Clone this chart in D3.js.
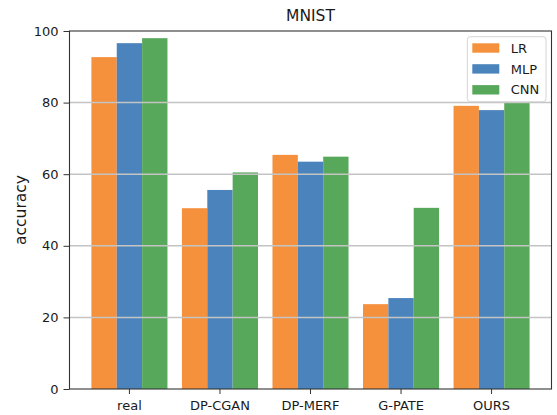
<!DOCTYPE html>
<html>
<head>
<meta charset="utf-8">
<script src="https://cdn.jsdelivr.net/npm/d3@7"></script>
<style>
  html, body { margin: 0; padding: 0; background: #fff; }
  svg { display: block; font-family: "DejaVu Sans", sans-serif; }
</style>
</head>
<body>
<svg id="chart" width="557" height="415"></svg>
<script>
// Classifier accuracy on MNIST for real data and each synthetic-data method
const methods = ["real", "DP-CGAN", "DP-MERF", "G-PATE", "OURS"];
const seriesNames = ["LR", "MLP", "CNN"];
const lrValues  = [92.7, 50.5, 65.4, 23.7, 79.1];
const mlpValues = [96.6, 55.6, 63.5, 25.4, 77.9];
const cnnValues = [98.0, 60.5, 64.9, 50.6, 80.2];
const yTicks = [0, 20, 40, 60, 80, 100];
const seriesColors = ["#f5903d", "#4b84bc", "#58a85b"];

const values = [lrValues, mlpValues, cnnValues];

const svg = d3.select("#chart");
const plot = { left: 69.5, right: 551.5, top: 31, bottom: 389 };

const x = d3.scaleBand()
  .domain(methods)
  .range([plot.left, plot.right])
  .paddingInner(0.16)
  .paddingOuter(0.242);

const xSeries = d3.scaleBand()
  .domain(seriesNames)
  .range([0, x.bandwidth()])
  .padding(0);

const y = d3.scaleLinear()
  .domain([0, 100])
  .range([plot.bottom, plot.top]);

// bars
const groups = svg.append("g")
  .selectAll("g")
  .data(seriesNames)
  .join("g")
  .attr("fill", (d, i) => seriesColors[i]);

groups.selectAll("rect")
  .data((s, si) => methods.map((m, mi) => ({ method: m, series: s, value: values[si][mi] })))
  .join("rect")
  .attr("x", d => x(d.method) + xSeries(d.series))
  .attr("y", d => y(d.value))
  .attr("width", xSeries.bandwidth())
  .attr("height", d => y(0) - y(d.value));

// horizontal grid, drawn above the bars
svg.append("g")
  .selectAll("line")
  .data(yTicks.filter(t => t > 0 && t < 100))
  .join("line")
  .attr("x1", plot.left)
  .attr("x2", plot.right)
  .attr("y1", d => y(d))
  .attr("y2", d => y(d))
  .attr("stroke", "#c4c4c4")
  .attr("stroke-width", 1.5);

// axes
const yAxis = svg.append("g")
  .attr("transform", `translate(${plot.left},0)`)
  .call(d3.axisLeft(y).tickValues(yTicks).tickSize(6).tickPadding(5).tickFormat(d3.format("d")));

const xAxis = svg.append("g")
  .attr("transform", `translate(0,${plot.bottom})`)
  .call(d3.axisBottom(x).tickSize(5).tickPadding(7));

[yAxis, xAxis].forEach(a => {
  a.select(".domain").remove();
  a.selectAll(".tick line").attr("stroke", "#333").attr("stroke-width", 1);
  a.selectAll(".tick text")
    .attr("fill", "#1a1a1a")
    .style("font-size", "13px")
    .style("font-family", "DejaVu Sans, sans-serif");
});

// frame
svg.append("rect")
  .attr("x", plot.left)
  .attr("y", plot.top)
  .attr("width", plot.right - plot.left)
  .attr("height", plot.bottom - plot.top)
  .attr("fill", "none")
  .attr("stroke", "#333")
  .attr("stroke-width", 1.1);

// title
svg.append("text")
  .attr("x", (plot.left + plot.right) / 2)
  .attr("y", 20.7)
  .attr("text-anchor", "middle")
  .attr("fill", "#1a1a1a")
  .style("font-size", "15.5px")
  .text("MNIST");

// y label
svg.append("text")
  .attr("transform", `translate(25.5,${(plot.top + plot.bottom) / 2}) rotate(-90)`)
  .attr("text-anchor", "middle")
  .attr("fill", "#1a1a1a")
  .style("font-size", "15.5px")
  .text("accuracy");

// legend
const legend = svg.append("g");
legend.append("rect")
  .attr("x", 467.3)
  .attr("y", 36.7)
  .attr("width", 78.7)
  .attr("height", 65)
  .attr("rx", 3)
  .attr("fill", "#fff")
  .attr("stroke", "#d4d4d4")
  .attr("stroke-width", 1);

const items = legend.selectAll("g.item")
  .data(seriesNames)
  .join("g")
  .attr("class", "item")
  .attr("transform", (d, i) => `translate(472.3,${43.3 + i * 20.9})`);

items.append("rect")
  .attr("width", 27)
  .attr("height", 9.4)
  .attr("fill", (d, i) => seriesColors[i]);

items.append("text")
  .attr("x", 38.4)
  .attr("y", 4.7)
  .attr("dy", "0.36em")
  .attr("fill", "#1a1a1a")
  .style("font-size", "13px")
  .text(d => d);
</script>
</body>
</html>
